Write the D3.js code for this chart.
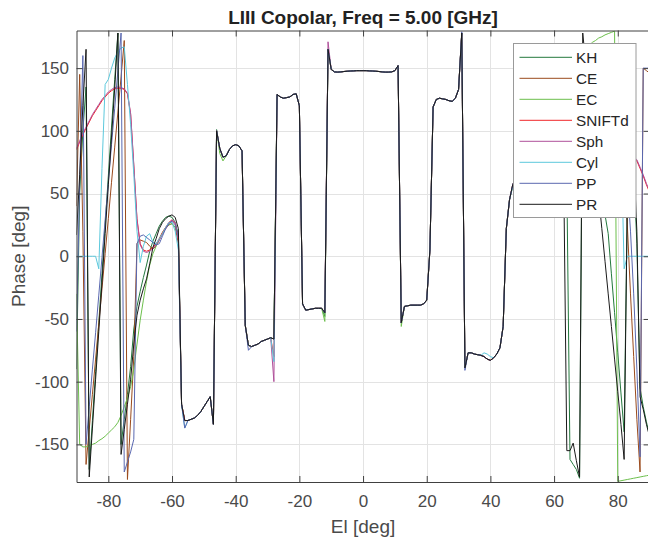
<!DOCTYPE html>
<html>
<head>
<meta charset="utf-8">
<script src="https://cdn.jsdelivr.net/npm/d3@7"></script>
<style>
  body { margin: 0; background: #fff; }
  svg { display: block; }
</style>
</head>
<body>
<svg id="chart" width="648" height="540"></svg>
<script>
// Elevation grid, 1 degree steps
const elevation = d3.range(-90, 91);

const seriesNames  = ["KH", "CE", "EC", "SNIFTd", "Sph", "Cyl", "PP", "PR"];
const seriesColors = ["#23783d", "#9a4a1c", "#6cbf4c", "#f0262a", "#b0509a", "#5cc8dc", "#5a68b0", "#1a1a1a"];

const xTickValues = [-80, -60, -40, -20, 0, 20, 40, 60, 80];
const yTickValues = [-150, -100, -50, 0, 50, 100, 150];

// Central section shared by all methods, El -57 .. 46
const corePhase = [
  -118, -131, -131, -130, -129, -127, -124, -120, -116, -112,
  -134, 100, 86, 79, 80, 85, 88, 89, 88, 84,
  -55, -71, -72, -71, -70, -68, -67, -66, -65, -66,
  129, 127, 126, 126.5, 127, 129, 129.5, 120, -38, -43,
  -42.5, -42, -41.5, -41.5, -41.5, -45, 165, 149, 147, 146.8,
  147, 147.3, 147.5, 147.7, 147.8, 148, 148, 148, 148, 147.8,
  147.7, 147.5, 147.3, 147, 146.8, 146.8, 147, 148, 152, -53,
  -40, -39.5, -39, -39, -39, -39, -38, -35, 5, 119,
  125, 126, 125.5, 125, 124, 123.5, 126, 133, 178, -89,
  -77, -77, -78, -78.5, -79, -80, -82, -83, -81, -78,
  -73, -56, 22, 45
];

// Edge sections, El -90 .. -58
const khLeft  = [-90, 50, 100, 135, -170, -131, -92, -53, -14, 25, 64, 103, 141, 178, -150, -130, -110, -88, -58, -40, -28, -17, -7, 4, 12, 18, 24, 28, 31, 32, 31, 27, 17];
const ceLeft  = [40, 145, 20, -166, -138, -110, -82, -54, -26, 2, 30, 59, 87, 115, 143, 172, -178, -130, -80, 10, 13, 12, 11, 8, 6, 8, 13, 18, 22, 25, 26, 23, 10];
const ecLeft  = [-30, -150, -152, -152, -151, -150, -149, -147, -145.5, -143.5, -141, -138.5, -136, -132.5, -127, -120, -113, -104, -90, -70, -51, -35, -20, -7, 2, 8, 14, 19, 23, 25, 26, 23, 16];
const snLeft  = [85, 91, 97, 102, 107, 112, 116, 120, 124, 127, 130, 132, 133.5, 134, 134, 133, 129.5, 113, 72, 30, 10, 5, 4, 5, 7, 10, 14, 19, 23, 27, 29, 26, 13];
const sphLeft = [86, 92, 98, 103, 108, 113, 117, 121, 125, 128, 131, 133, 134.5, 135, 134.5, 133.5, 130, 114, 73, 29, 9, 4, 3, 4, 6, 9, 13, 18, 22, 26, 29, 27, 14];
const cylLeft = [0, 0, 0, 0, 0, 0, 0, -10, 70, 137, 141, 150, 158, 163, 166, 167, 137, 105, 65, 20, -5, 8, 16, 18, 11, 10, 14, 18, 23, 27, 27, 20, 5];
const ppLeft  = [-60, 60, 160, -150, -120, -90, -61, -31, -1, 29, 59, 89, 118, 148, 178, -172, -164, -156, -146, 10, 16, 17, 15, 13, 11, 9, 10, 16, 22, 26, 28, 25, 15];
const prLeft  = [17, 65, 120, 165, -176, -137, -98, -60, -21, 18, 57, 95, 134, 178, -158, -138, -118, -98, -70, -47, -35, -26, -18, -6, 7, 14, 22, 27, 30, 32, 33, 31, 22];

// Edge sections, El 47 .. 90
const khRight  = [56, 62, 66, 69, 71, 73, 75, 77, 79, 81, 83, 85, 87, 89, 91, 93, 95, 60,
                  -162, -166, -170, -177, 170, 150, 130, 110, 90, 70, 50, 33, 18, -14, -45, -77, -109, -140, 40, 80, 70, 10, -105, -120, -132, -143];
const ceRight  = [57, 63, 67, 70, 73, 75, 77, 79, 81, 83, 85, 86, 87, 88, 88, 88, 87, 86,
                  85, 84, 83, 82, 81, 80, 79, 78, 77, 76, 75, 74, 73, 72, 71, 70, 70, 70, 25, -30, -80, -130, -172, 150, 148, 146];
const ecRight  = [56, 64, 72, 80, 88, 95, 102, 108, 114, 120, 125, 130, 134, 138, 142, 145, 148, 151,
                  154, 157, 160, 162, 164, 166, 168, 170.5, 172, 174, 175, 176.5, 177.5, 178.5, 179.5, -179.5, -179, -178.5, -178, -177.5, -177, -176.5, -176, -175.5, -175, -174.5];
const snRight  = [56, 62, 67, 72, 76, 80, 84, 87, 90, 93, 95, 97, 99, 100, 101, 101.5, 102, 102,
                  101.5, 101, 100, 99, 98, 96.5, 95, 93.5, 92, 90.5, 89, 87.5, 86, 85, 84, 83, 82, 81, 80, 79, 78, 76, 70, 64, 57, 51];
const sphRight = [57, 63, 68, 73, 77, 81, 85, 88, 91, 94, 96, 98, 100, 101, 102, 102.5, 103, 103,
                  102.5, 102, 101, 100, 99, 97.5, 96, 94.5, 93, 91.5, 90, 88.5, 87, 86, 85, 84, 83, 82, 81, 80, 79, 77, 71, 65, 58, 52];
const cylRight = [55, 62, 66, 69, 72, 74, 76, 78, 80, 82, 84, 86, 88, 90, 92, 94, 96, 98,
                  100, 101, 102, 103, 104, 104, 104, 104, 103, 103, 102, 102, 101, 101, 100, 100, 100, -10, 0, 0, 0, 0, 0, 0, 0, 0];
const ppRight  = [57, 63, 67, 70, 72, 74, 76, 78, 80, 82, 84, 86, 87, 88, 89, 90, 90, 90,
                  90, 90, 89, 88, 87, 86, 85, 84, 83, 82, 81, 80, 79, 78, 77, 76, 75, 72, 60, 20, -30, -90, -160, 150, 150, 150];
const prRight  = [57, 63, 67, 70, 72, 74, 76, 78, 80, 82, 84, 86, 88, 90, 92, 94, 70, -155,
                  -155, -149, -163, -176, 178, 152, 126, 100, 74, 48, 22, -4, -30, -56, -82, -108, -134, -162, 45, 90, 80, 20, -112, -122, -134, -144];

// Local departures from the shared section: [El, phase]
const khCore  = [[-46, 101], [-12, -48]];
const ceCore  = [];
const ecCore  = [[-45, 82], [-44, 76], [-12, -52], [12, -56]];
const snCore  = [[-28, -80]];
const sphCore = [[-28, -100], [-11, 171]];
const cylCore = [[-56, -137], [-28, -84], [38, -77], [39, -78], [40, -80]];
const ppCore  = [[-56, -137], [-36, -75], [31, 179], [32, -91]];
const prCore  = [];

function assemble(left, right, departures) {
  const values = left.concat(corePhase, right);
  departures.forEach(([el, p]) => { values[el + 90] = p; });
  return values;
}

const phaseSeries = [
  assemble(khLeft, khRight, khCore),
  assemble(ceLeft, ceRight, ceCore),
  assemble(ecLeft, ecRight, ecCore),
  assemble(snLeft, snRight, snCore),
  assemble(sphLeft, sphRight, sphCore),
  assemble(cylLeft, cylRight, cylCore),
  assemble(ppLeft, ppRight, ppCore),
  assemble(prLeft, prRight, prCore)
];

// ---- layout ----
const svg = d3.select("#chart");
const plot = { left: 76.5, right: 649.6, top: 30.5, bottom: 482 };
const fontFamily = "'Liberation Sans', Arial, Helvetica, sans-serif";
const axisColor = "#404040";
const plainNumber = d => String(d);

const x = d3.scaleLinear().domain([-90, 90]).range([plot.left, plot.right]);
const y = d3.scaleLinear().domain([-180, 180]).range([plot.bottom, plot.top]);

// grid
const grid = svg.append("g").attr("stroke", "#e3e3e3").attr("stroke-width", 1);
grid.selectAll("line.gx").data(xTickValues).join("line")
  .attr("x1", d => Math.round(x(d)) + 0.5).attr("x2", d => Math.round(x(d)) + 0.5)
  .attr("y1", plot.top).attr("y2", plot.bottom);
grid.selectAll("line.gy").data(yTickValues).join("line")
  .attr("y1", d => Math.round(y(d)) + 0.5).attr("y2", d => Math.round(y(d)) + 0.5)
  .attr("x1", plot.left).attr("x2", plot.right);

// data lines
svg.append("clipPath").attr("id", "plotClip").append("rect")
  .attr("x", plot.left).attr("y", plot.top)
  .attr("width", plot.right - plot.left).attr("height", plot.bottom - plot.top);

const line = d3.line().x((d, i) => x(elevation[i])).y(d => y(d));
svg.append("g").attr("clip-path", "url(#plotClip)")
  .selectAll("path").data(phaseSeries).join("path")
  .attr("d", d => line(d))
  .attr("fill", "none")
  .attr("stroke", (d, i) => seriesColors[i])
  .attr("stroke-width", 1)
  .attr("stroke-linejoin", "round");

// axes
function styleAxis(g) {
  g.select(".domain").attr("stroke", axisColor);
  g.selectAll(".tick line").attr("stroke", axisColor);
  g.selectAll(".tick text").attr("fill", "#4a4a4a")
    .attr("font-family", fontFamily).attr("font-size", 17);
}
svg.append("g").attr("transform", `translate(0,${plot.bottom})`)
  .call(d3.axisBottom(x).tickValues(xTickValues).tickFormat(plainNumber).tickSizeInner(-6).tickSizeOuter(0).tickPadding(13))
  .call(styleAxis);
svg.append("g").attr("transform", `translate(0,${plot.top})`)
  .call(d3.axisTop(x).tickValues(xTickValues).tickSizeInner(-6).tickSizeOuter(0).tickFormat(""))
  .call(styleAxis);
svg.append("g").attr("transform", `translate(${plot.left},0)`)
  .call(d3.axisLeft(y).tickValues(yTickValues).tickFormat(plainNumber).tickSizeInner(-6).tickSizeOuter(0).tickPadding(7.5))
  .call(styleAxis);
svg.append("g").attr("transform", `translate(${plot.right},0)`)
  .call(d3.axisRight(y).tickValues(yTickValues).tickSizeInner(-6).tickSizeOuter(0).tickFormat(""))
  .call(styleAxis);

// title and axis labels
svg.append("text").attr("x", (plot.left + plot.right) / 2).attr("y", 23.5)
  .attr("text-anchor", "middle").attr("font-family", fontFamily)
  .attr("font-size", 19).attr("font-weight", "bold").attr("fill", "#222")
  .text("LIII Copolar, Freq = 5.00 [GHz]");
svg.append("text").attr("x", (plot.left + plot.right) / 2).attr("y", 533)
  .attr("text-anchor", "middle").attr("font-family", fontFamily)
  .attr("font-size", 19).attr("fill", "#4a4a4a")
  .text("El [deg]");
svg.append("text")
  .attr("transform", `translate(25,${(plot.top + plot.bottom) / 2}) rotate(-90)`)
  .attr("text-anchor", "middle").attr("font-family", fontFamily)
  .attr("font-size", 19).attr("fill", "#4a4a4a")
  .text("Phase [deg]");

// legend
const legend = svg.append("g").attr("transform", "translate(513.5,43.5)");
legend.append("rect").attr("width", 122.5).attr("height", 174)
  .attr("fill", "#fff").attr("stroke", "#9a9a9a").attr("stroke-width", 1);
const rows = legend.selectAll("g.row").data(seriesNames).join("g")
  .attr("transform", (d, i) => `translate(0,${13.8 + i * 21})`);
rows.append("line").attr("x1", 6).attr("x2", 58.5)
  .attr("stroke", (d, i) => seriesColors[i]).attr("stroke-width", 1);
rows.append("text").attr("x", 62.5).attr("dy", "0.36em")
  .attr("font-family", fontFamily).attr("font-size", 15.3).attr("fill", "#262626")
  .text(d => d);
</script>
</body>
</html>
